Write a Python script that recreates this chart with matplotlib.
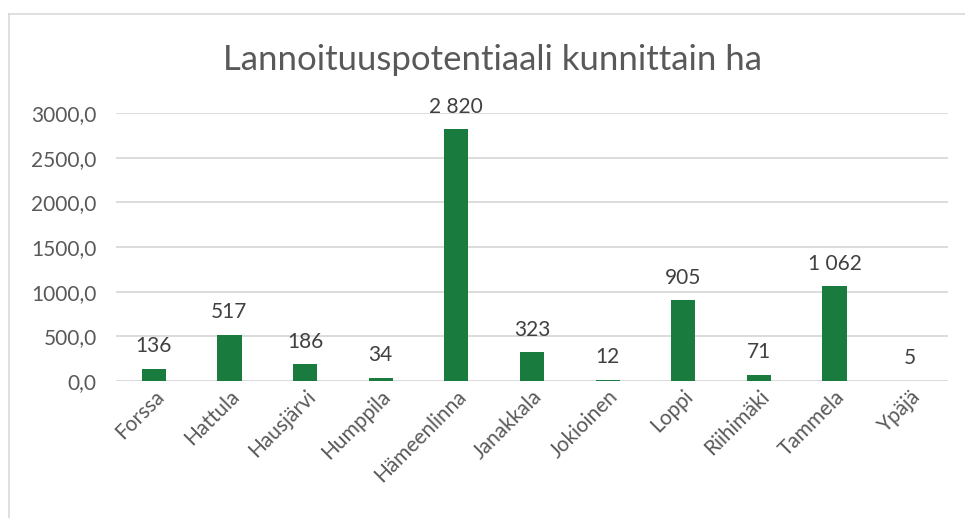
import matplotlib.pyplot as plt
from matplotlib.lines import Line2D

kunnat = ["Forssa", "Hattula", "Hausjärvi", "Humppila", "Hämeenlinna", "Janakkala",
          "Jokioinen", "Loppi", "Riihimäki", "Tammela", "Ypäjä"]
hehtaarit = [136, 517, 186, 34, 2820, 323, 12, 905, 71, 1062, 5]
y_ticks = [0, 500, 1000, 1500, 2000, 2500, 3000]

plt.rcParams['font.family'] = ['Lato', 'DejaVu Sans']
text_col = "#595959"
bar_col = "#1a7b3f"

W, H = 965, 518
fig = plt.figure(figsize=(W / 100, H / 100), dpi=100)

# chart frame (left and top edges visible)
fig.add_artist(Line2D([9 / W, 9 / W], [0, 1 - 14 / H], transform=fig.transFigure,
                      color="#d9d9d9", lw=1.2))
fig.add_artist(Line2D([9 / W, 1], [1 - 14 / H, 1 - 14 / H], transform=fig.transFigure,
                      color="#d9d9d9", lw=1.2))

ax = fig.add_axes([116 / W, 1 - 381 / H, (948 - 116) / W, (381 - 113) / H])
x = range(len(kunnat))
ax.bar(x, hehtaarit, width=0.32, color=bar_col, zorder=3)

ax.set_xlim(-0.5, len(kunnat) - 0.5)
ax.set_ylim(0, 3000)
ax.set_yticks(y_ticks)
ax.set_yticklabels([f"{v:.1f}".replace(".", ",") for v in y_ticks], fontsize=15, color=text_col)
ax.set_xticks(list(x))
ax.set_xticklabels(kunnat, rotation=45, ha="right", rotation_mode="anchor",
                   fontsize=15, color=text_col)
ax.tick_params(axis="both", length=0, pad=4)
ax.tick_params(axis="y", pad=14)
ax.grid(axis="y", color="#d9d9d9", lw=1.3, zorder=0)
for s in ax.spines.values():
    s.set_visible(False)

for i, v in enumerate(hehtaarit):
    lbl = f"{v:,}".replace(",", " ")
    ax.annotate(lbl, (i, v), xytext=(0, 9), textcoords="offset points",
                ha="center", va="bottom", fontsize=15, color="#404040")

fig.text(493 / W, 1 - 60 / H, "Lannoituuspotentiaali kunnittain ha", ha="center", va="center",
         fontsize=25, color=text_col)

fig.savefig("out.png", dpi=100, facecolor="white")
